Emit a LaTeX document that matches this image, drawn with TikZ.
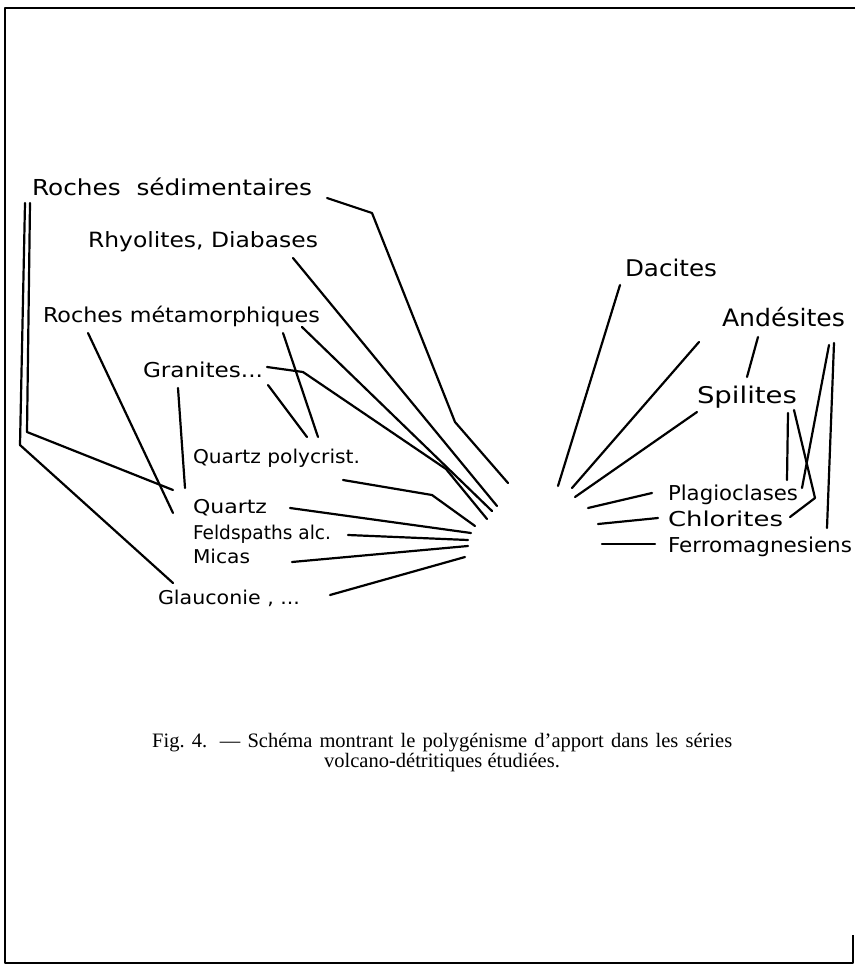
\documentclass[tikz,border=0pt]{standalone}
\usepackage{fontspec}
\setmainfont{Liberation Serif}
\newfontfamily\lab{DejaVu Sans}
\usepackage{graphicx}
\tikzset{
  lbl/.style={anchor=base west, inner sep=0pt, outer sep=0pt},
  ln/.style={line width=2.2pt, line cap=round, line join=round},
  frame/.style={line width=2.4pt, line join=round}
}
\newcommand\fw[3]{\resizebox{#1pt}{\height}{\fontsize{#2}{#2}\lab #3}}
\begin{document}
\begin{tikzpicture}[x=1pt,y=-1pt]
\useasboundingbox (0,0) rectangle (856,969);
% frame
\draw[frame] (855,8) -- (5,8) -- (5,963) -- (853,963) -- (853,935);

% labels left
\node[lbl] (rsed) at (32,195) {\fw{280}{22}{Roches\ \ sédimentaires}};
\node[lbl] (rhy) at (88,247) {\fw{230}{21}{Rhyolites, Diabases}};
\node[lbl] (rmet) at (43,322) {\fw{277}{20.5}{Roches métamorphiques}};
\node[lbl] (gra) at (143,377) {\fw{120}{20.5}{Granites...}};
\node[lbl] (qpol) at (193,463) {\fw{167}{19}{Quartz polycrist.}};
\node[lbl] (qz) at (193,513) {\fw{74}{19}{Quartz}};
\node[lbl] (feld) at (193,539) {\fw{138}{19}{Feldspaths alc.}};
\node[lbl] (mic) at (193,563) {\fw{57}{19}{Micas}};
\node[lbl] (gla) at (158,604) {\fw{142}{19}{Glauconie , ...}};
% labels right
\node[lbl] (dac) at (625,276) {\fw{92}{23}{Dacites}};
\node[lbl] (and) at (722,326) {\fw{123}{24}{Andésites}};
\node[lbl] (spi) at (697,403) {\fw{100}{23}{Spilites}};
\node[lbl] (pla) at (668,500) {\fw{130}{20.5}{Plagioclases}};
\node[lbl] (chl) at (668,526) {\fw{115}{20.5}{Chlorites}};
\node[lbl] (fer) at (668,552) {\fw{184}{20.5}{Ferromagnesiens}};

% caption
\node[anchor=base west, inner sep=0pt] (cap1) at (152,747)
  {\fontsize{20.5}{22}\selectfont\makebox[580pt][s]{Fig.~4. — Schéma montrant le polygénisme d’apport dans les séries}};
\node[anchor=base, inner sep=0pt] (cap2) at (442,767)
  {\fontsize{20.5}{22}\selectfont volcano-détritiques étudiées.};

% coordinates
\coordinate (a1) at (327,198); \coordinate (a2) at (372,213); \coordinate (a3) at (455,422); \coordinate (a4) at (508,483);
\coordinate (b1) at (293,258); \coordinate (b2) at (497,506);
\coordinate (c1) at (302,327); \coordinate (c2) at (492,511);
\coordinate (d1) at (88,333);  \coordinate (d2) at (173,513);
\coordinate (e1) at (283,333); \coordinate (e2) at (318,437);
\coordinate (f1) at (267,367); \coordinate (f2) at (303,372); \coordinate (f3) at (446,469); \coordinate (f4) at (487,519);
\coordinate (g1) at (178,388); \coordinate (g2) at (185,488);
\coordinate (h1) at (268,385); \coordinate (h2) at (307,437);
\coordinate (i1) at (343,480); \coordinate (i2) at (432,495); \coordinate (i3) at (475,526);
\coordinate (j1) at (290,508); \coordinate (j2) at (471,533);
\coordinate (k1) at (348,535); \coordinate (k2) at (468,540);
\coordinate (l1) at (292,562); \coordinate (l2) at (468,546);
\coordinate (m1) at (330,595); \coordinate (m2) at (465,557);
\coordinate (n1) at (30,203);  \coordinate (n2) at (27,432);  \coordinate (n3) at (173,490);
\coordinate (o1) at (25,203);  \coordinate (o2) at (20,445);  \coordinate (o3) at (173,583);
% right
\coordinate (p1) at (620,285); \coordinate (p2) at (558,486);
\coordinate (q1) at (699,342); \coordinate (q2) at (572,488);
\coordinate (r1) at (697,412); \coordinate (r2) at (575,497);
\coordinate (s1) at (652,493); \coordinate (s2) at (588,508);
\coordinate (t1) at (658,518); \coordinate (t2) at (598,524);
\coordinate (u1) at (655,544); \coordinate (u2) at (602,544);
\coordinate (v1) at (758,337); \coordinate (v2) at (747,377);
\coordinate (w1) at (788,413); \coordinate (w2) at (787,480);
\coordinate (x1) at (794,410); \coordinate (x2) at (815,498); \coordinate (x3) at (790,517);
\coordinate (y1) at (829,345); \coordinate (y2) at (802,488);
\coordinate (z1) at (834,343); \coordinate (z2) at (827,528);

\draw[ln] (a1) -- (a2) -- (a3) -- (a4);
\draw[ln] (b1) -- (b2);
\draw[ln] (c1) -- (c2);
\draw[ln] (d1) -- (d2);
\draw[ln] (e1) -- (e2);
\draw[ln] (f1) -- (f2) -- (f3) -- (f4);
\draw[ln] (g1) -- (g2);
\draw[ln] (h1) -- (h2);
\draw[ln] (i1) -- (i2) -- (i3);
\draw[ln] (j1) -- (j2);
\draw[ln] (k1) -- (k2);
\draw[ln] (l1) -- (l2);
\draw[ln] (m1) -- (m2);
\draw[ln] (n1) -- (n2) -- (n3);
\draw[ln] (o1) -- (o2) -- (o3);
\draw[ln] (p1) -- (p2);
\draw[ln] (q1) -- (q2);
\draw[ln] (r1) -- (r2);
\draw[ln] (s1) -- (s2);
\draw[ln] (t1) -- (t2);
\draw[ln] (u1) -- (u2);
\draw[ln] (v1) -- (v2);
\draw[ln] (w1) -- (w2);
\draw[ln] (x1) -- (x2) -- (x3);
\draw[ln] (y1) -- (y2);
\draw[ln] (z1) -- (z2);
\end{tikzpicture}
\end{document}
